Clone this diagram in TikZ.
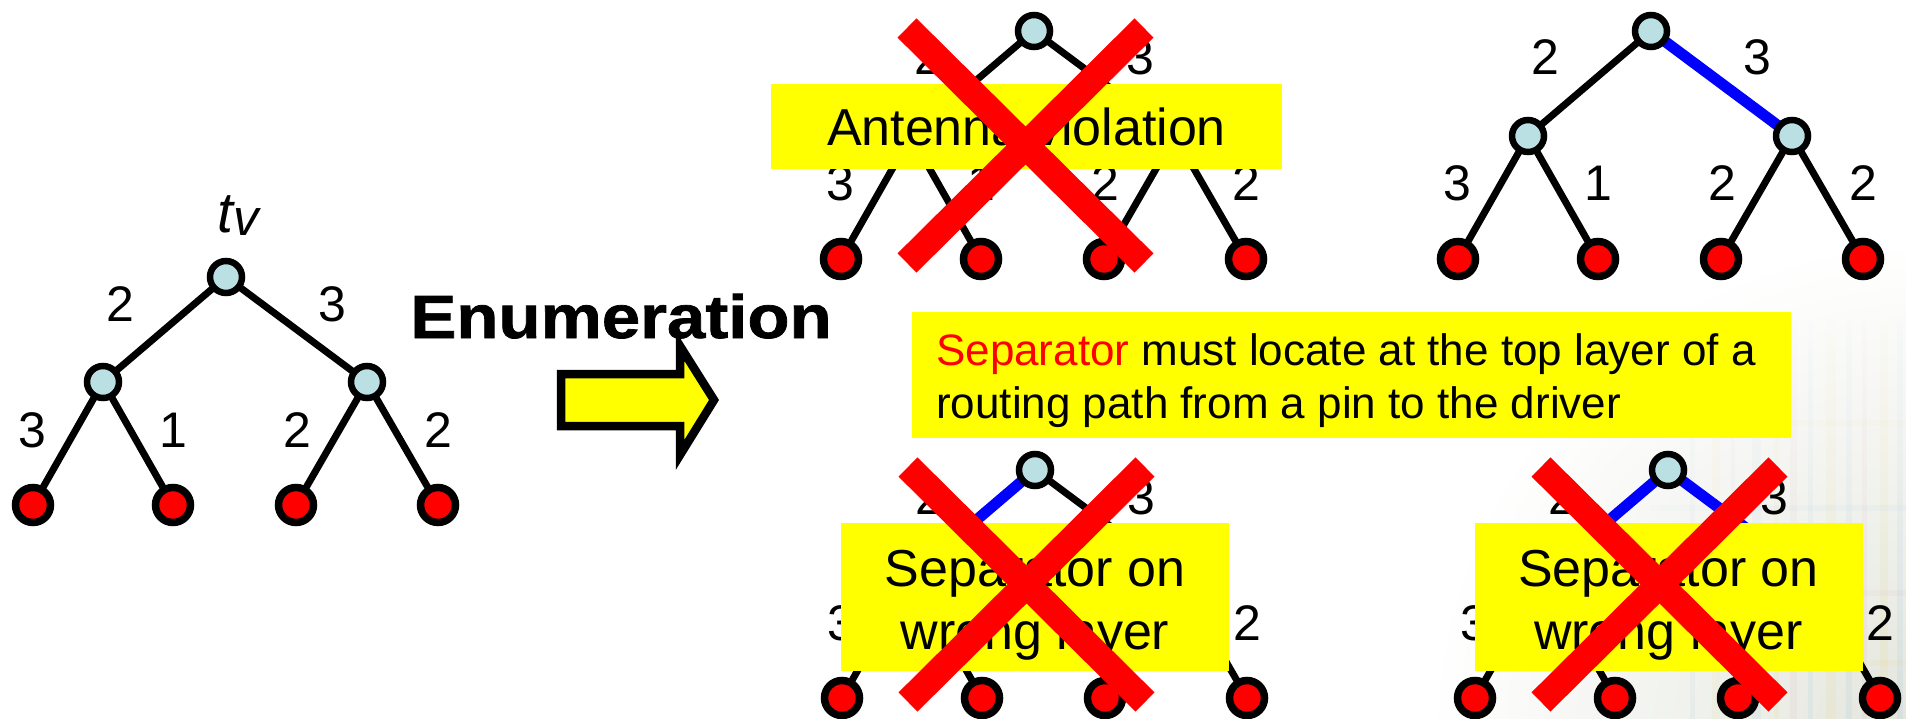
\documentclass[tikz,border=0pt]{standalone}
\usepackage{fontspec}
\setmainfont{Liberation Sans}
\newfontfamily\enumfont[FakeStretch=1.13, FakeBold=1.2]{Liberation Sans Bold}
\usepackage{graphicx}
\usetikzlibrary{fadings}

\pgfdeclarelayer{photo}
\pgfdeclarelayer{edges}
\pgfsetlayers{photo,edges,main}

\definecolor{nodeblue}{RGB}{187,224,227}
\definecolor{pinred}{RGB}{255,0,0}
\definecolor{wireblue}{RGB}{0,0,255}
\definecolor{noteyellow}{RGB}{255,255,0}
\definecolor{photobase}{RGB}{214,218,204}
\definecolor{photoblue}{RGB}{160,195,225}
\definecolor{photoyellow}{RGB}{230,215,140}
\definecolor{photopink}{RGB}{220,180,195}

\tikzfading[name=photofade, inner color=transparent!0, outer color=transparent!100]

\tikzset{
  steinernode/.style={circle, draw=black, line width=6.5pt, fill=nodeblue,
    minimum size=32pt, inner sep=0pt},
  pinnode/.style={circle, draw=black, line width=7.5pt, fill=pinred,
    minimum size=35pt, inner sep=0pt},
  wirestyle/.style={line width=7pt, black},
  sepwire/.style={line width=11pt, wireblue},
  costlabel/.style={font=\fontsize{50}{60}\selectfont, inner sep=0pt, anchor=base},
  notebox/.style={fill=noteyellow, inner sep=0pt, outer sep=0pt},
  boxtext/.style={font=\fontsize{52}{62}\selectfont, inner sep=0pt, anchor=base},
  ruletext/.style={font=\fontsize{44}{53}\selectfont, inner sep=0pt, anchor=base west},
  crossbar/.style={line width=27pt, pinred},
  photofaded/.style={path fading=photofade, fit fading=false,
    fading transform={shift={(1930,740)}, scale=20}},
}

% A routing tree: driver on top, two Steiner points, four pins.
% #1 name prefix, #2/#3 driver position, #4/#5 styles of the two upper wires
\newcommand{\routetree}[5]{%
  \begin{scope}[shift={(#2,#3)}]
    \node[steinernode] (#1r) at (0,0) {};
    \node[steinernode] (#1a) at (-123,105) {};
    \node[steinernode] (#1b) at (141,105) {};
    \node[pinnode] (#1p1) at (-193,228) {};
    \node[pinnode] (#1p2) at (-53,228) {};
    \node[pinnode] (#1p3) at (70,228) {};
    \node[pinnode] (#1p4) at (212,228) {};
    \node[costlabel] (#1c1) at (-106,44) {2};
    \node[costlabel] (#1c2) at (106,44) {3};
    \node[costlabel] (#1c3) at (-194,170) {3};
    \node[costlabel] (#1c4) at (-53,170) {1};
    \node[costlabel] (#1c5) at (71,170) {2};
    \node[costlabel] (#1c6) at (212,170) {2};
    \begin{pgfonlayer}{edges}
      \draw[#4] (#1r.center) -- (#1a.center);
      \draw[#5] (#1r.center) -- (#1b.center);
      \draw[wirestyle] (#1a.center) -- (#1p1.center);
      \draw[wirestyle] (#1a.center) -- (#1p2.center);
      \draw[wirestyle] (#1b.center) -- (#1p3.center);
      \draw[wirestyle] (#1b.center) -- (#1p4.center);
    \end{pgfonlayer}
  \end{scope}}

% A big red cross over a rejected candidate, relative to its driver
\newcommand{\rejectmark}[3]{%
  \begin{scope}[shift={(#2,#3)}]
    \coordinate (#1nw) at (-127,-3);
    \coordinate (#1se) at (110,232);
    \coordinate (#1ne) at (110,-3);
    \coordinate (#1sw) at (-127,232);
    \draw[crossbar] (#1nw) -- (#1se);
    \draw[crossbar] (#1ne) -- (#1sw);
  \end{scope}}

\begin{document}
\begin{tikzpicture}[x=1pt,y=-1pt]
\useasboundingbox (0,0) rectangle (1906,719);

% faded layout photo in the lower right corner
\begin{pgfonlayer}{photo}
  \begin{scope}
    \clip (0,0) rectangle (1906,719);
    \fill[photobase, opacity=0.7, photofaded] (1350,250) rectangle (1906,719);
    \foreach \sx/\sw/\sc in {1690/5/photoblue, 1712/8/photoyellow, 1731/4/photopink,
                             1752/9/photoblue, 1774/5/photoyellow, 1790/7/photopink,
                             1808/5/photoblue, 1826/10/photoyellow, 1846/6/photoblue,
                             1862/5/photopink, 1880/8/photoyellow, 1897/6/photoblue}
      \fill[\sc, opacity=0.2, photofaded] (\sx,320) rectangle ++(\sw,399);
    \foreach \sy/\sc in {420/photoyellow, 505/photoblue, 590/photopink, 660/photoyellow}
      \fill[\sc, opacity=0.14, photofaded] (1650,\sy) rectangle (1906,\sy+6);
  \end{scope}
\end{pgfonlayer}

% original tree
\routetree{L}{226}{277}{wirestyle}{wirestyle}
\node[inner sep=0pt, anchor=base] (tv) at (238,233)
  {\fontsize{57}{60}\selectfont\itshape t\raisebox{-3pt}{\fontsize{51}{60}\selectfont v}};

% enumeration arrow
\node[anchor=base, inner sep=0pt, font=\fontsize{61}{70}\selectfont\enumfont] (enum)
  at (621,338) {Enumeration};
\draw[line width=8.5pt, fill=noteyellow, miter limit=10]
  (561,374) -- (680,374) -- (680,346) -- (714,400) -- (680,455)
  -- (680,426) -- (561,426) -- cycle;

% candidate trees
\routetree{A}{1034}{31}{wirestyle}{wirestyle}
\routetree{B}{1651}{31}{wirestyle}{sepwire}
\routetree{C}{1035}{470}{sepwire}{wirestyle}
\routetree{D}{1668}{470}{sepwire}{sepwire}

% antenna violation
\node[notebox, minimum width=511pt, minimum height=85pt] (violbox) at (1026.5,126.5) {};
\node[boxtext] (violtxt) at (1026.5,146) {Antenna violation};
\rejectmark{xa}{1034}{31}

% rule
\node[notebox, minimum width=879pt, minimum height=126pt] (rulebox) at (1351.5,375) {};
\node[ruletext] (rule1) at (936,365) {\textcolor{pinred}{Separator} must locate at the top layer of a};
\node[ruletext] (rule2) at (936,418) {routing path from a pin to the driver};

% separator on wrong layer (two cases)
\node[notebox, minimum width=388pt, minimum height=148pt] (wrongc) at (1035,597) {};
\node[boxtext] (wrongc1) at (1035,586) {Separator on};
\node[boxtext] (wrongc2) at (1035,649) {wrong layer};
\rejectmark{xc}{1035}{470}

\node[notebox, minimum width=388pt, minimum height=148pt] (wrongd) at (1669,597) {};
\node[boxtext] (wrongd1) at (1668.5,586) {Separator on};
\node[boxtext] (wrongd2) at (1668.5,649) {wrong layer};
\rejectmark{xd}{1668}{470}

\end{tikzpicture}
\end{document}
